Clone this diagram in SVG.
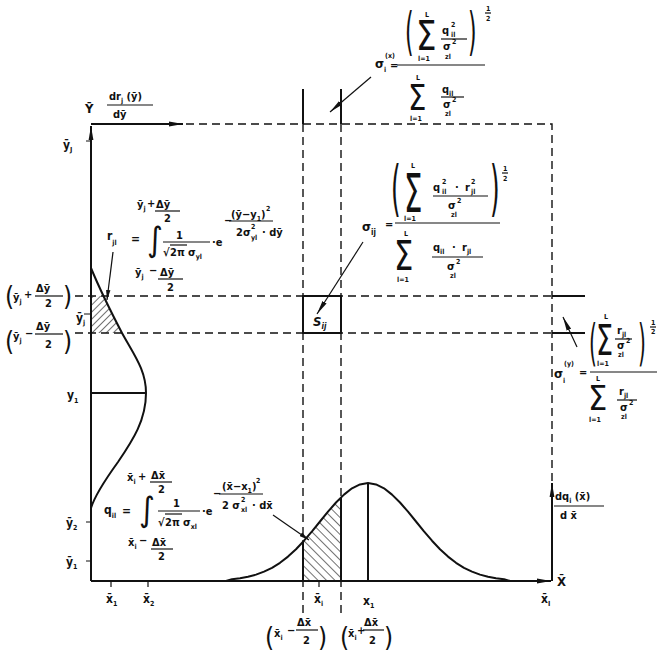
<svg xmlns="http://www.w3.org/2000/svg" width="657" height="653" viewBox="0 0 657 653">
<style>
text{font-family:"DejaVu Sans Condensed","DejaVu Sans",sans-serif;font-stretch:condensed;font-weight:bold;fill:#111;font-size:12px}
.s{font-size:8px}
.x{font-size:7px}
.m{font-size:11px}
.b{font-size:13px}
.n{font-weight:normal}
.ln{stroke:#111;fill:none;stroke-width:2;stroke-linejoin:round}
.th{stroke:#111;fill:none;stroke-width:1.2}
.ds{stroke:#111;fill:none;stroke-width:1.4;stroke-dasharray:8 5}
</style>
<defs>
<marker id="ah" viewBox="0 0 14 6" refX="14" refY="3" markerWidth="14" markerHeight="6" markerUnits="userSpaceOnUse" orient="auto"><path d="M0,0.6 L14,3 L0,5.4 Z" fill="#111"/></marker>
<marker id="as" viewBox="0 0 10 5" refX="10" refY="2.5" markerWidth="10" markerHeight="5" markerUnits="userSpaceOnUse" orient="auto"><path d="M0,0.3 L10,2.5 L0,4.7 Z" fill="#111"/></marker>
<pattern id="hp" width="5" height="5" patternUnits="userSpaceOnUse" patternTransform="rotate(45)"><line x1="0" y1="0" x2="0" y2="5" stroke="#111" stroke-width="1.2"/></pattern>
<pattern id="hn" width="6" height="6" patternUnits="userSpaceOnUse" patternTransform="rotate(-45)"><line x1="0" y1="0" x2="0" y2="6" stroke="#111" stroke-width="1.2"/></pattern>
<clipPath id="cy"><path d="M91,268 C98,285 110,310 122,333 C134,355 146,370 146,393 C146,420 133,440 118,462 C105,480 95,495 91,508 Z"/></clipPath>
<clipPath id="cx"><path d="M226,581 L232,579.2 L240,578.2 L248,576.7 L256,574.6 L264,571.6 L272,567.8 L280,562.8 L288,556.6 L296,549.2 L304,540.7 L312,531.4 L320,521.5 L328,511.7 L336,502.5 L344,494.6 L352,488.3 L360,484.4 L368,483 L376,484.4 L384,488.3 L392,494.6 L400,502.5 L408,511.7 L416,521.5 L424,531.4 L432,540.7 L440,549.2 L448,556.6 L456,562.8 L464,567.8 L472,571.6 L480,574.6 L488,576.7 L496,578.2 L504,579.2 L510,581 Z"/></clipPath>
</defs>

<g id="connectors">
  <path class="ds" d="M186,124 H552 V481"/>
  <path class="ds" d="M75,296 H552 M75,333 H552"/>
  <path class="ds" d="M303,124 V617 M341,124 V617"/>
  <path class="ln" d="M552,296 H585 M552,333 H585"/>
  <path class="ln" d="M303,89 V124 M341,89 V124"/>
  <path class="ln" d="M91,581 V126" marker-end="url(#ah)"/>
  <path class="ln" d="M91,124 H183" marker-end="url(#ah)"/>
  <path class="ln" d="M91,581 H551" marker-end="url(#ah)"/>
  <path class="ln" d="M552,581 V483" marker-end="url(#ah)"/>
  <path class="th" d="M86,141 H91 M84,314 H91 M86,522 H91 M86,561 H91 M111,581 V587 M148,581 V587 M319,581 V587"/>
  <path class="th" d="M113,252 L107,300" marker-end="url(#as)"/>
  <path class="th" d="M273,515 L309,540" marker-end="url(#as)"/>
  <path class="th" d="M363,242 L317,314" marker-end="url(#ah)"/>
  <path class="th" d="M371,77 L330,112" marker-end="url(#ah)"/>
  <path class="th" d="M577,347 L563,317" marker-end="url(#ah)"/>
</g>

<g id="y-distribution">
  <rect x="91" y="296" width="60" height="37" fill="url(#hp)" clip-path="url(#cy)"/>
  <path class="ln" d="M91,268 C98,285 110,310 122,333 C134,355 146,370 146,393 C146,420 133,440 118,462 C105,480 95,495 91,508"/>
  <path class="ln" d="M91,393 H146"/>
</g>

<g id="x-distribution">
  <rect x="303" y="470" width="38" height="111" fill="url(#hn)" clip-path="url(#cx)"/>
  <path class="ln" d="M226,581 L232,579.2 L240,578.2 L248,576.7 L256,574.6 L264,571.6 L272,567.8 L280,562.8 L288,556.6 L296,549.2 L304,540.7 L312,531.4 L320,521.5 L328,511.7 L336,502.5 L344,494.6 L352,488.3 L360,484.4 L368,483 L376,484.4 L384,488.3 L392,494.6 L400,502.5 L408,511.7 L416,521.5 L424,531.4 L432,540.7 L440,549.2 L448,556.6 L456,562.8 L464,567.8 L472,571.6 L480,574.6 L488,576.7 L496,578.2 L504,579.2 L510,581"/>
  <path class="ln" d="M303,542 V581 M341,497.5 V581 M368,483 V581"/>
</g>

<g id="cell-sij">
  <rect x="303" y="296" width="38" height="37" class="ln"/>
  <text class="b" x="313" y="326" font-style="italic">S<tspan class="s" dy="3">ij</tspan></text>
</g>

<g id="axis-labels">
  <text class="b" x="85" y="113">Ȳ</text>
  <text class="m" x="109" y="100">dr<tspan class="x" dy="3">j</tspan><tspan dy="-3"> (ȳ)</tspan></text>
  <path class="th" d="M107,105 H153"/>
  <text class="m" x="113" y="118">dȳ</text>
  <text x="63" y="149">ȳ<tspan class="x" dy="3">J</tspan></text>

  <text class="n" x="5" y="305" style="font-size:26px">(</text>
  <text class="m" x="13" y="301">ȳ<tspan class="x" dy="3">j</tspan></text>
  <text class="m" x="24" y="298">+</text>
  <text class="m" x="36" y="292">Δȳ</text>
  <path class="th" d="M35,296 H63"/>
  <text class="m" x="45" y="307">2</text>
  <text class="n" x="63" y="305" style="font-size:26px">)</text>

  <text x="76" y="322">ȳ<tspan class="x" dy="3">j</tspan></text>

  <text class="n" x="5" y="350" style="font-size:26px">(</text>
  <text class="m" x="13" y="340">ȳ<tspan class="x" dy="3">j</tspan></text>
  <text class="m" x="25" y="337">−</text>
  <text class="m" x="36" y="330">Δȳ</text>
  <path class="th" d="M35,334 H63"/>
  <text class="m" x="45" y="348">2</text>
  <text class="n" x="63" y="350" style="font-size:26px">)</text>

  <text x="67" y="399">y<tspan class="x" dy="4">1</tspan></text>
  <text x="66" y="527">ȳ<tspan class="x" dy="3">2</tspan></text>
  <text x="66" y="566">ȳ<tspan class="x" dy="3">1</tspan></text>

  <text x="106" y="603">x̄<tspan class="x" dy="3">1</tspan></text>
  <text x="143" y="603">x̄<tspan class="x" dy="3">2</tspan></text>
  <text x="314" y="603">x̄<tspan class="x" dy="3">i</tspan></text>
  <text x="363" y="605">x<tspan class="x" dy="3">1</tspan></text>
  <text x="541" y="603">x̄<tspan class="x" dy="3">I</tspan></text>
  <text class="b" x="557" y="586">X̄</text>

  <text class="m" x="555" y="500">dq<tspan class="x" dy="3">i</tspan><tspan dy="-3"> (x̄)</tspan></text>
  <path class="th" d="M554,506 H604"/>
  <text class="m" x="560" y="519">d x̄</text>

  <text class="n" x="265" y="646" style="font-size:26px">(</text>
  <text class="m" x="274" y="637">x̄<tspan class="x" dy="3">i</tspan></text>
  <text class="m" x="287" y="634">−</text>
  <text class="m" x="297" y="626">Δx̄</text>
  <path class="th" d="M296,630 H318"/>
  <text class="m" x="303" y="644">2</text>
  <text class="n" x="318" y="646" style="font-size:26px">)</text>

  <text class="n" x="340" y="646" style="font-size:26px">(</text>
  <text class="m" x="348" y="637">x̄<tspan class="x" dy="3">i</tspan></text>
  <text class="m" x="357" y="634">+</text>
  <text class="m" x="364" y="626">Δx̄</text>
  <path class="th" d="M363,630 H384"/>
  <text class="m" x="369" y="644">2</text>
  <text class="n" x="384" y="646" style="font-size:26px">)</text>
</g>

<g id="formula-rjl">
  <text x="107" y="240">r<tspan class="x" dy="5">jl</tspan></text>
  <text x="131" y="243">=</text>
  <text class="n" x="147" y="251" style="font-size:34px">∫</text>
  <text class="m" x="137" y="208">ȳ<tspan class="x" dy="3">j</tspan></text>
  <text class="m" x="147" y="207">+</text>
  <text class="m" x="156" y="208">Δȳ</text>
  <path class="th" d="M155,211 H180"/>
  <text class="m" x="164" y="222">2</text>
  <text class="m" x="176" y="239">1</text>
  <path class="th" d="M163,242 H210"/>
  <text class="m" x="163" y="256">√</text>
  <path class="th" d="M170,245 H187"/>
  <text class="m" x="170" y="256">2π</text>
  <text class="m" x="188" y="256">σ<tspan class="x" dy="3">yl</tspan></text>
  <text class="m" x="212" y="246">·e</text>
  <text class="m" x="224" y="224">−</text>
  <text class="m" x="231" y="218">(ȳ−y<tspan class="x" dy="3">1</tspan><tspan dy="-3">)</tspan></text>
  <text class="x" x="266" y="211">2</text>
  <path class="th" d="M229,221 H273"/>
  <text class="m" x="236" y="236">2σ</text>
  <text class="x" x="251" y="229">2</text>
  <text class="x" x="251" y="240">yl</text>
  <text class="m" x="262" y="236">· dȳ</text>
  <text class="m" x="135" y="276">ȳ<tspan class="x" dy="3">j</tspan></text>
  <text class="m" x="149" y="274">−</text>
  <text class="m" x="160" y="276">Δȳ</text>
  <path class="th" d="M158,279 H183"/>
  <text class="m" x="167" y="291">2</text>
</g>

<g id="formula-qil">
  <text x="104" y="514">q<tspan class="x" dy="4">il</tspan></text>
  <text x="122" y="515">=</text>
  <text class="n" x="139" y="521" style="font-size:34px">∫</text>
  <text class="m" x="127" y="481">x̄<tspan class="x" dy="3">i</tspan></text>
  <text class="m" x="138" y="480">+</text>
  <text class="m" x="151" y="479">Δx̄</text>
  <path class="th" d="M150,482 H172"/>
  <text class="m" x="158" y="493">2</text>
  <text class="m" x="173" y="507">1</text>
  <path class="th" d="M158,511 H200"/>
  <text class="m" x="158" y="526">√</text>
  <path class="th" d="M165,514 H182"/>
  <text class="m" x="165" y="526">2π</text>
  <text class="m" x="183" y="526">σ<tspan class="x" dy="3">xl</tspan></text>
  <text class="m" x="202" y="515">·e</text>
  <text class="m" x="213" y="497">−</text>
  <text class="m" x="222" y="490">(x̄−x<tspan class="x" dy="3">1</tspan><tspan dy="-3">)</tspan></text>
  <text class="x" x="256" y="483">2</text>
  <path class="th" d="M219,494 H263"/>
  <text class="m" x="222" y="509">2 σ</text>
  <text class="x" x="241" y="502">2</text>
  <text class="x" x="241" y="512">xl</text>
  <text class="m" x="252" y="509">· dx̄</text>
  <text class="m" x="128" y="546">x̄<tspan class="x" dy="3">i</tspan></text>
  <text class="m" x="139" y="544">−</text>
  <text class="m" x="152" y="546">Δx̄</text>
  <path class="th" d="M151,549 H173"/>
  <text class="m" x="158" y="560">2</text>
</g>

<g id="formula-sigma-x">
  <text class="b" x="375" y="68">σ</text>
  <text class="x" x="385" y="58">(x)</text>
  <text class="x" x="384" y="72">i</text>
  <text class="m" x="390" y="69">=</text>
  <path class="th" d="M397,65 H485"/>
  <text class="n" transform="translate(405,49) scale(0.47,1)" style="font-size:52px">(</text>
  <text class="n" transform="translate(468,49) scale(0.47,1)" style="font-size:52px">)</text>
  <text class="x" x="486" y="11">1</text>
  <path class="th" d="M485,13 H491"/>
  <text class="x" x="486" y="21">2</text>
  <text class="n" transform="translate(416,50) scale(0.9,1)" style="font-size:40px">Σ</text>
  <text class="x" x="425" y="17">L</text>
  <text class="x" x="418" y="61">l=1</text>
  <text class="m" x="442" y="34">q</text>
  <text class="x" x="451" y="27">2</text>
  <text class="x" x="451" y="37">il</text>
  <path class="th" d="M441,39 H467"/>
  <text class="m" x="443" y="50">σ</text>
  <text class="x" x="452" y="44">2</text>
  <text class="x" x="445" y="59">zl</text>
  <text class="n" transform="translate(408,110) scale(0.9,1)" style="font-size:36px">Σ</text>
  <text class="x" x="416" y="80">L</text>
  <text class="x" x="410" y="121">l=1</text>
  <text class="m" x="442" y="93">q<tspan class="x" dy="3">il</tspan></text>
  <path class="th" d="M441,97 H464"/>
  <text class="m" x="443" y="108">σ</text>
  <text class="x" x="452" y="102">2</text>
  <text class="x" x="445" y="116">zl</text>
</g>

<g id="formula-sigma-ij">
  <text class="b" x="362" y="231">σ<tspan class="s" dy="4">ij</tspan></text>
  <text class="m" x="385" y="228">=</text>
  <path class="th" d="M395,223 H500"/>
  <text class="n" transform="translate(391,209) scale(0.45,1)" style="font-size:61px">(</text>
  <text class="n" transform="translate(490,209) scale(0.45,1)" style="font-size:61px">)</text>
  <text class="x" x="503" y="171">1</text>
  <path class="th" d="M502,173 H508"/>
  <text class="x" x="503" y="181">2</text>
  <text class="n" transform="translate(404,212) scale(0.6,1)" style="font-size:54px">Σ</text>
  <text class="x" x="411" y="168">L</text>
  <text class="x" x="404" y="221">l=1</text>
  <text class="m" x="433" y="191">q</text>
  <text class="x" x="442" y="184">2</text>
  <text class="x" x="442" y="194">il</text>
  <text class="m" x="455" y="191">·</text>
  <text class="m" x="465" y="191">r</text>
  <text class="x" x="471" y="184">2</text>
  <text class="x" x="471" y="194">jl</text>
  <path class="th" d="M433,196 H488"/>
  <text class="m" x="448" y="209">σ</text>
  <text class="x" x="457" y="203">2</text>
  <text class="x" x="451" y="217">zl</text>
  <text class="n" transform="translate(394,270) scale(0.85,1)" style="font-size:40px">Σ</text>
  <text class="x" x="404" y="236">L</text>
  <text class="x" x="397" y="282">l=1</text>
  <text class="m" x="433" y="251">q<tspan class="x" dy="3">il</tspan></text>
  <text class="m" x="452" y="251">·</text>
  <text class="m" x="462" y="251">r<tspan class="x" dy="3">jl</tspan></text>
  <path class="th" d="M432,257 H483"/>
  <text class="m" x="447" y="270">σ</text>
  <text class="x" x="456" y="264">2</text>
  <text class="x" x="450" y="278">zl</text>
</g>

<g id="formula-sigma-y">
  <text class="b" x="554" y="378">σ</text>
  <text class="x" x="564" y="366">(y)</text>
  <text class="x" x="563" y="383">i</text>
  <text class="m" x="579" y="376">=</text>
  <path class="th" d="M590,372 H657"/>
  <text class="n" transform="translate(589,360) scale(0.45,1)" style="font-size:50px">(</text>
  <text class="n" transform="translate(638,360) scale(0.45,1)" style="font-size:50px">)</text>
  <text class="x" x="651" y="325">1</text>
  <path class="th" d="M650,327 H656"/>
  <text class="x" x="651" y="334">2</text>
  <text class="n" transform="translate(596,355) scale(0.7,1)" style="font-size:43px">Σ</text>
  <text class="x" x="604" y="319">L</text>
  <text class="x" x="597" y="366">l=1</text>
  <text class="m" x="617" y="334">r<tspan class="x" dy="3">jl</tspan></text>
  <path class="th" d="M615,339 H632"/>
  <text class="m" x="617" y="349">σ</text>
  <text class="x" x="626" y="343">2</text>
  <text class="x" x="618" y="357">zl</text>
  <text class="n" transform="translate(588,410)" style="font-size:34px">Σ</text>
  <text class="x" x="596" y="381">L</text>
  <text class="x" x="589" y="422">l=1</text>
  <text class="m" x="619" y="395">r<tspan class="x" dy="3">jl</tspan></text>
  <path class="th" d="M617,400 H637"/>
  <text class="m" x="620" y="411">σ</text>
  <text class="x" x="629" y="405">2</text>
  <text class="x" x="621" y="419">zl</text>
</g>
</svg>
